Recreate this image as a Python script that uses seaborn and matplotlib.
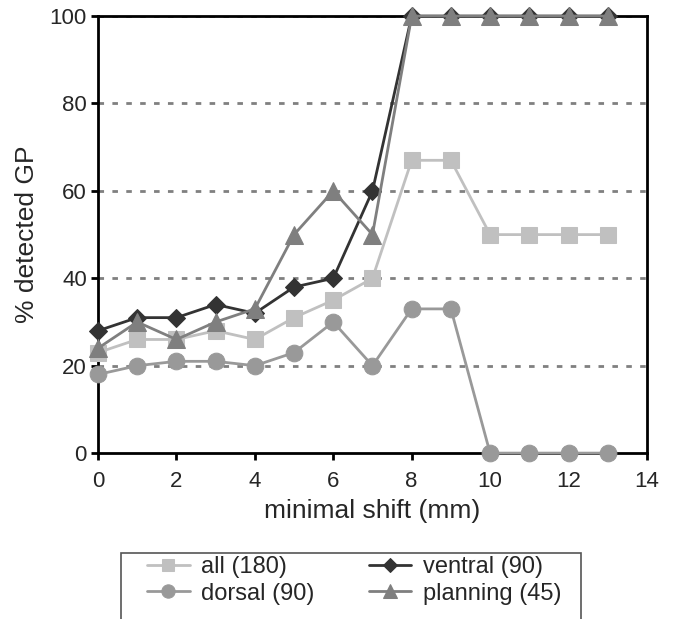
import numpy as np
import pandas as pd
import seaborn as sns
import matplotlib.pyplot as plt
from matplotlib.patches import Rectangle

shift = list(range(14))
all_180 = [23, 26, 26, 28, 26, 31, 35, 40, 67, 67, 50, 50, 50, 50]
ventral_90 = [28, 31, 31, 34, 32, 38, 40, 60, 100, 100, 100, 100, 100, 100]
dorsal_90 = [18, 20, 21, 21, 20, 23, 30, 20, 33, 33, 0, 0, 0, 0]
planning_45 = [24, 30, 26, 30, 33, 50, 60, 50, 100, 100, 100, 100, 100, 100]

names = ["all (180)", "ventral (90)", "dorsal (90)", "planning (45)"]
series = [all_180, ventral_90, dorsal_90, planning_45]
colors = ["#c0c0c0", "#333333", "#999999", "#7f7f7f"]
markers = ["s", "D", "o", "^"]
msizes = [11, 9, 12, 13]

df = pd.concat([pd.DataFrame({"shift": shift, "pct": v, "group": n})
                for n, v in zip(names, series)], ignore_index=True)

sns.set_style("white")
plt.rcParams['font.family'] = ['Liberation Sans', 'DejaVu Sans']

fig = plt.figure(figsize=(6.76, 6.19), dpi=100)
ax = fig.add_axes([0.145, 0.268, 0.812, 0.706])

# dashed gridlines
for y in [20, 40, 60, 80, 100]:
    ax.axhline(y, color="#808080", lw=2, ls=(0, (2, 3)), zorder=0)

for n, c, m, s in zip(names, colors, markers, msizes):
    sns.lineplot(data=df[df["group"] == n], x="shift", y="pct", ax=ax,
                 color=c, marker=m, markersize=s, markeredgecolor=c,
                 lw=2, label=n, clip_on=False, zorder=3)

ax.set_xlim(0, 14)
ax.set_ylim(0, 100)
ax.set_xticks(range(0, 15, 2))
ax.set_yticks(range(0, 101, 20))
ax.tick_params(axis="both", labelsize=16, direction="out", length=5, width=2,
               left=True, bottom=True, color="black")
ax.tick_params(axis="x", pad=8)
ax.tick_params(axis="y", pad=3)
ax.set_xlabel("minimal shift (mm)", fontsize=19, labelpad=5)
ax.set_ylabel("% detected GP", fontsize=19, labelpad=8)
for sp in ax.spines.values():
    sp.set_color("black")
    sp.set_linewidth(2)

ax.get_legend().remove()
h, l = ax.get_legend_handles_labels()
order = [0, 2, 1, 3]
leg = fig.legend([h[i] for i in order], [l[i] for i in order], ncol=2,
                 loc="upper left", bbox_to_anchor=(147 / 676, 1 - 556 / 619),
                 fontsize=17, frameon=False, handlelength=1.8,
                 columnspacing=2.3, borderaxespad=0, labelspacing=0.2,
                 handletextpad=0.5, borderpad=0)
for lh, s in zip(leg.legend_handles, [11, 12, 9, 13]):
    lh.set_markersize(s * 0.8)

# legend box, cut off by the bottom of the figure
fig.patches.append(Rectangle((121 / 676, -0.05), 460 / 676, 0.05 + 1 - 553 / 619,
                             transform=fig.transFigure, fill=False,
                             edgecolor="#555555", lw=1.2))

fig.savefig("out.png", dpi=100)
